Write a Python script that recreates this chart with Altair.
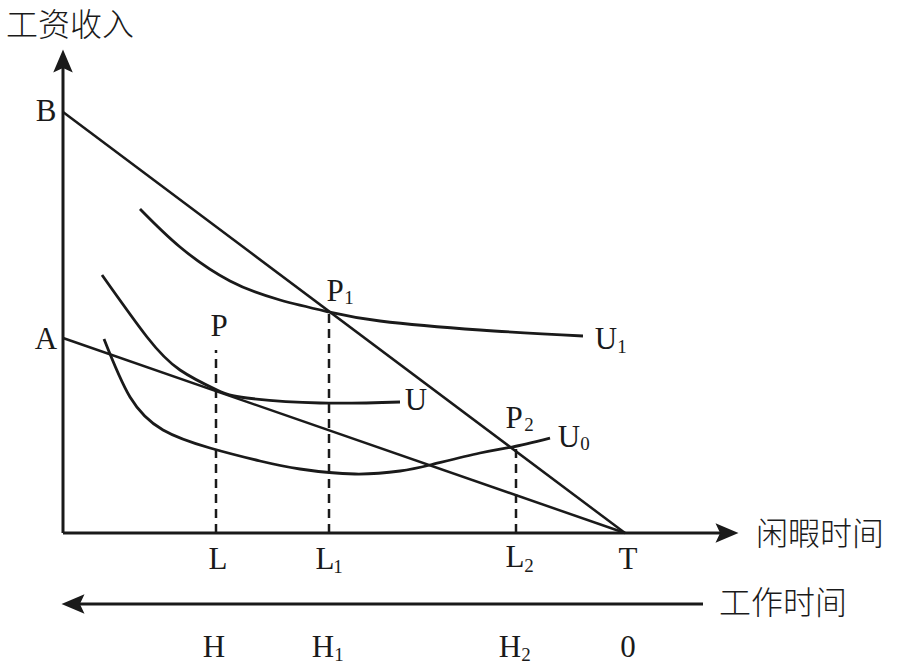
import altair as alt
import pandas as pd

# ---- values (origin at axis corner) ----
T_LEISURE = 562          # T: total time (x)
B_INCOME = 421           # B: intercept of high-wage budget line
A_INCOME = 195           # A: intercept of low-wage budget line
WORK_AXIS_Y = -71        # level of the 工作时间 arrow

# dashed guide lines: leisure value and height reached
guide_x = [153, 266, 453]
guide_top = [183, 220, 86]

# indifference curves
u1_x = [77, 117, 167, 217, 266, 317, 417, 520]
u1_y = [324, 286, 252, 233, 221, 212, 203, 197]
u_x = [39, 84, 117, 154, 184, 257, 337]
u_y = [258, 196, 163, 143, 135, 130, 131]
u0_x = [41, 67, 100, 147, 197, 237, 292, 337, 367, 417, 449, 487]
u0_y = [194, 136, 103, 85, 72, 64, 59, 62, 68, 80, 86, 95]

# labels (text, x, y)
main_labels = [
    ("B", -17, 421), ("A", -17, 193), ("P", 156, 206), ("P", 272, 241),
    ("U", 353, 132), ("U", 543, 193), ("P", 451, 114), ("U", 506, 95),
    ("L", 155, -27), ("L", 262, -27), ("L", 452, -25), ("T", 565, -27),
    ("H", 151, -115), ("H", 260, -115), ("H", 447, -115), ("0", 565, -115),
]
sub_labels = [
    ("1", 286, 235), ("1", 559, 186), ("2", 466, 108), ("0", 522, 89),
    ("1", 275, -34), ("2", 466, -33), ("1", 276, -122), ("2", 463, -122),
]
cjk_labels = [
    ("工资收入", 7, 507), ("闲暇时间", 757, -2), ("工作时间", 720, -71),
]

# ---- tables ----
xs = alt.Scale(domain=[-63, 852])
ys = alt.Scale(domain=[-134, 533])


def X(f):
    return alt.X(f, scale=xs, axis=None)


def Y(f):
    return alt.Y(f, scale=ys, axis=None)


axes_df = pd.DataFrame({
    "x": [0, 0, 5], "y": [0, 0, WORK_AXIS_Y],
    "x2": [0, 660, 640], "y2": [466, 0, WORK_AXIS_Y],
})
budget_df = pd.DataFrame({
    "x": [0, 0], "y": [B_INCOME, A_INCOME],
    "x2": [T_LEISURE, T_LEISURE], "y2": [0, 0],
})
guide_df = pd.DataFrame({
    "x": guide_x, "y": [0] * len(guide_x), "x2": guide_x, "y2": guide_top,
})
curve_rows = []
for name, xv, yv in [("U1", u1_x, u1_y), ("U", u_x, u_y), ("U0", u0_x, u0_y)]:
    for i, (a, b) in enumerate(zip(xv, yv)):
        curve_rows.append({"c": name, "i": i, "x": a, "y": b})
curve_df = pd.DataFrame(curve_rows)

arrow_df = pd.DataFrame({
    "x": [0, 664, 10], "y": [472, 0, WORK_AXIS_Y], "angle": [270, 0, 180],
})

main_df = pd.DataFrame(main_labels, columns=["t", "x", "y"])
sub_df = pd.DataFrame(sub_labels, columns=["t", "x", "y"])
cjk_df = pd.DataFrame(cjk_labels, columns=["t", "x", "y"])

axes = alt.Chart(axes_df).mark_rule(color="#1a1a1a", strokeWidth=3).encode(
    x=X("x:Q"), y=Y("y:Q"), x2="x2:Q", y2="y2:Q")
budget = alt.Chart(budget_df).mark_rule(color="#1a1a1a", strokeWidth=2.5).encode(
    x=X("x:Q"), y=Y("y:Q"), x2="x2:Q", y2="y2:Q")
guides = alt.Chart(guide_df).mark_rule(
    color="#1a1a1a", strokeWidth=2.5, strokeDash=[9, 6]).encode(
    x=X("x:Q"), y=Y("y:Q"), x2="x2:Q", y2="y2:Q")
curves = alt.Chart(curve_df).mark_line(
    color="#1a1a1a", strokeWidth=2.8, interpolate="natural").encode(
    x=X("x:Q"), y=Y("y:Q"), detail="c:N", order="i:Q")
arrows = alt.Chart(arrow_df).mark_point(
    shape="M1,0L-1,-0.85L-0.6,0L-1,0.85Z", filled=True, size=529,
    color="#1a1a1a", opacity=1).encode(
    x=X("x:Q"), y=Y("y:Q"), angle=alt.Angle("angle:Q", scale=None))

main_txt = alt.Chart(main_df).mark_text(
    font="Liberation Serif", fontSize=31, color="#1a1a1a",
    align="center", baseline="middle").encode(x=X("x:Q"), y=Y("y:Q"), text="t:N")
sub_txt = alt.Chart(sub_df).mark_text(
    font="Liberation Serif", fontSize=19, color="#1a1a1a",
    align="center", baseline="middle").encode(x=X("x:Q"), y=Y("y:Q"), text="t:N")
cjk_txt = alt.Chart(cjk_df).mark_text(
    font="Noto Sans CJK SC", fontSize=32, fontWeight=300, color="#1a1a1a",
    align="center", baseline="middle").encode(x=X("x:Q"), y=Y("y:Q"), text="t:N")

chart = alt.layer(axes, budget, guides, curves, arrows, main_txt, sub_txt, cjk_txt).properties(
    width=915, height=667, padding=0, autosize="none", background="white"
).configure_view(stroke=None)

chart.save("out.html", embed_options={"renderer": "svg", "actions": False})
